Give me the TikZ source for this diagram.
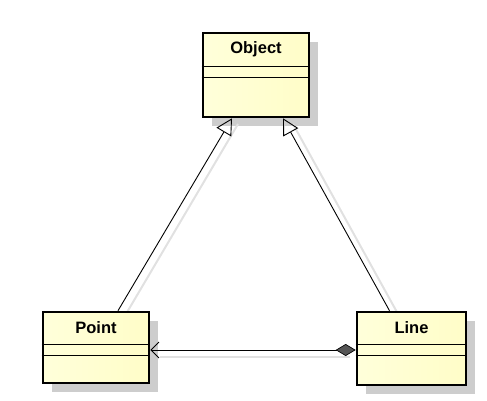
\documentclass[tikz,border=0pt]{standalone}
\usepackage{fontspec}
\setmainfont{Liberation Sans}
\usetikzlibrary{arrows.meta,calc}
\definecolor{boxfill}{RGB}{255,255,218}
\definecolor{boxfillb}{RGB}{255,253,200}
\definecolor{shadowc}{RGB}{205,205,205}
\definecolor{lineshadow}{RGB}{225,225,225}
\definecolor{diamondc}{RGB}{85,85,85}
\tikzset{
  umlclass/.style={draw=black, line width=2.6pt, left color=boxfill, right color=boxfillb,
    inner sep=0pt, anchor=center},
  shadowbox/.style={fill=shadowc, draw=none},
  divider/.style={line width=1.2pt},
  cname/.style={font=\bfseries\fontsize{16.5}{18}\selectfont},
  gen/.style={line width=0.9pt, -{Triangle[open,length=16pt,width=17pt,line width=0.9pt]}},
  assoc/.style={line width=0.9pt, {Diamond[fill=diamondc,length=20pt,width=12pt,line width=0.7pt]}-{Straight Barb[length=8pt,width=16pt,line width=0.9pt]}},
  lshadow/.style={line width=2pt, draw=lineshadow}
}
\begin{document}
\begin{tikzpicture}[x=1pt,y=-1pt]
\useasboundingbox (0,0) rectangle (487,401);
% shadows of boxes
\fill[shadowbox] (212,42) rectangle (318,126);
\fill[shadowbox] (52,321) rectangle (158,392);
\fill[shadowbox] (366,321) rectangle (475,394);
% shadows of connectors
\draw[lshadow] (126,314) -- (238,124);
\draw[lshadow] (398,314) -- (293,124);
\draw[lshadow] (160,357) -- (350,357);
% boxes
\node[umlclass, minimum width=106pt, minimum height=84pt] (o) at (256,75) {};
\node[umlclass, minimum width=106pt, minimum height=71pt] (p) at (96,347.5) {};
\node[umlclass, minimum width=109pt, minimum height=73pt] (l) at (411.5,348.5) {};
% dividers
\draw[divider] ([yshift=-35pt]o.north west) -- ([yshift=-35pt]o.north east);
\draw[divider] ([yshift=-46pt]o.north west) -- ([yshift=-46pt]o.north east);
\draw[divider] ([yshift=-34pt]p.north west) -- ([yshift=-34pt]p.north east);
\draw[divider] ([yshift=-45pt]p.north west) -- ([yshift=-45pt]p.north east);
\draw[divider] ([yshift=-34pt]l.north west) -- ([yshift=-34pt]l.north east);
\draw[divider] ([yshift=-45pt]l.north west) -- ([yshift=-45pt]l.north east);
% names
\node[cname] (ot) at ([yshift=-18pt]o.north) {Object};
\node[cname] (pt) at ([yshift=-17pt]p.north) {Point};
\node[cname] (lt) at ([yshift=-17pt]l.north) {Line};
% connectors
\draw[gen] ([xshift=22pt]p.north) -- ([xshift=-24pt]o.south);
\draw[gen] ([xshift=-22pt]l.north) -- ([xshift=27pt]o.south);
\draw[assoc] ([yshift=-1.5pt]l.west) -- ([yshift=-2.5pt]p.east);
\end{tikzpicture}
\end{document}
